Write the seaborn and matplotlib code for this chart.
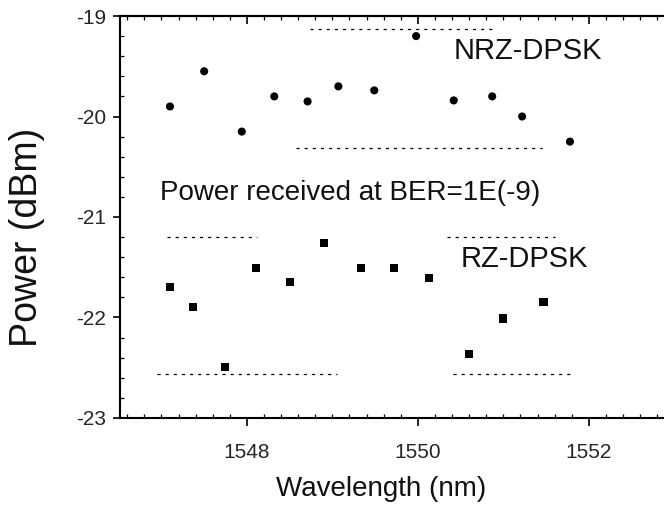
import matplotlib
matplotlib.use("Agg")
import matplotlib.pyplot as plt
import seaborn as sns
import pandas as pd
from matplotlib.ticker import MultipleLocator

# ---- data ----
nrz_wl = [1547.10, 1547.50, 1547.94, 1548.32, 1548.71, 1549.07, 1549.49, 1549.98, 1550.42, 1550.87, 1551.22, 1551.78]
nrz_pw = [-19.90, -19.55, -20.15, -19.80, -19.85, -19.70, -19.74, -19.20, -19.84, -19.80, -20.00, -20.25]
rz_wl = [1547.10, 1547.37, 1547.74, 1548.11, 1548.50, 1548.90, 1549.33, 1549.72, 1550.13, 1550.60, 1551.00, 1551.47]
rz_pw = [-21.70, -21.90, -22.49, -21.51, -21.65, -21.26, -21.51, -21.51, -21.61, -22.36, -22.01, -21.85]

# dotted reference levels (level, x start, x end)
ref_levels = [-19.13, -20.31, -21.20, -21.20, -22.56, -22.56]
ref_start = [1548.74, 1548.58, 1547.06, 1550.34, 1546.95, 1550.41]
ref_end = [1550.88, 1551.45, 1548.12, 1551.60, 1549.05, 1551.78]

x_ticks = [1548, 1550, 1552]
y_ticks = [-23, -22, -21, -20, -19]
series_names = ["NRZ-DPSK", "RZ-DPSK"]

df = pd.DataFrame({
    "Wavelength": nrz_wl + rz_wl,
    "Power": nrz_pw + rz_pw,
    "Series": [series_names[0]] * len(nrz_wl) + [series_names[1]] * len(rz_wl),
})

sns.set_theme(style="ticks")
plt.rcParams["font.family"] = ["Liberation Sans", "DejaVu Sans"]

fig = plt.figure(figsize=(6.64, 5.05), dpi=100)
ax = fig.add_axes([0.1807, 0.1723, 0.8193, 0.7960])

sns.scatterplot(data=df, x="Wavelength", y="Power", style="Series",
                markers={"NRZ-DPSK": "o", "RZ-DPSK": "s"},
                color="black", s=34, edgecolor="black", linewidth=0,
                legend=False, ax=ax)

for lvl, xs, xe in zip(ref_levels, ref_start, ref_end):
    ax.hlines(lvl, xs, xe, colors="black", linestyles=(0, (2.5, 4)), linewidth=0.9)

ax.set_xlim(1546.515, 1552.88)
ax.set_ylim(-23, -19)
ax.set_xticks(x_ticks)
ax.set_yticks(y_ticks)
ax.set_xticklabels([str(t) for t in x_ticks])
ax.set_yticklabels([str(t) for t in y_ticks])
ax.xaxis.set_minor_locator(MultipleLocator(0.2))
ax.yaxis.set_minor_locator(MultipleLocator(0.2))

ax.tick_params(axis="x", which="major", direction="out", length=6, width=1.2,
               labelsize=15, pad=12, top=False, color="black")
ax.tick_params(axis="y", which="major", direction="out", length=5, width=1.2,
               labelsize=15, pad=5, color="black")
ax.tick_params(axis="both", which="minor", direction="in", length=3, width=0.9,
               top=False, color="black")

# top axis: ticks pointing inward, no labels
top = ax.secondary_xaxis("top")
top.set_xticks(x_ticks)
top.xaxis.set_minor_locator(MultipleLocator(0.2))
top.tick_params(axis="x", which="major", direction="in", length=6, width=1.2,
                labeltop=False, color="black")
top.tick_params(axis="x", which="minor", direction="in", length=3, width=0.9,
                color="black")
top.set_xticklabels([])
top.spines["top"].set_linewidth(1.5)
top.spines["top"].set_color("black")

for side in ["left", "bottom", "top"]:
    ax.spines[side].set_color("black")
    ax.spines[side].set_linewidth(1.5)
ax.spines["right"].set_visible(False)

ax.set_xlabel("Wavelength (nm)", fontsize=20, color="#111111")
ax.xaxis.set_label_coords(0.48, -0.145)
ax.set_ylabel("Power (dBm)", fontsize=27, color="#111111")
ax.yaxis.set_label_coords(-0.138, 0.449)

ax.text(0.886, 0.913, "NRZ-DPSK", transform=ax.transAxes, fontsize=21,
        ha="right", va="center", color="#111111")
ax.text(0.0735, 0.560, "Power received at BER=1E(-9)", transform=ax.transAxes,
        fontsize=20, ha="left", va="center", color="#111111")
ax.text(0.86, 0.396, "RZ-DPSK", transform=ax.transAxes, fontsize=21,
        ha="right", va="center", color="#111111")

ax.set_facecolor("white")
fig.patch.set_facecolor("white")
fig.savefig("out.png", dpi=100, facecolor="white")
